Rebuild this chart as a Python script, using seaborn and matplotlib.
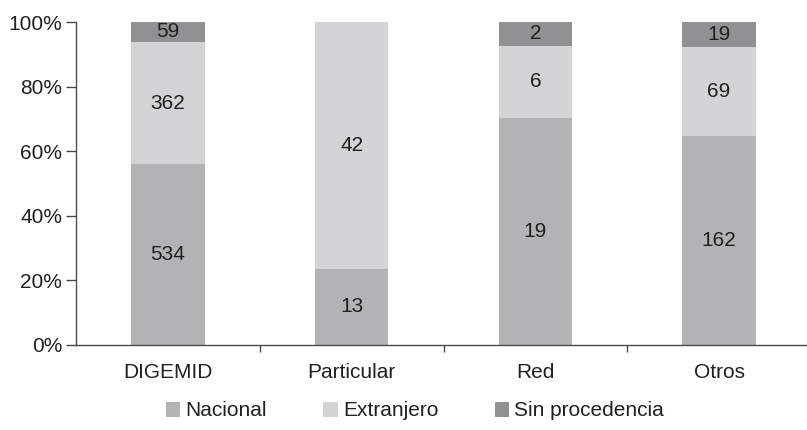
import matplotlib

matplotlib.use("Agg")
import matplotlib.pyplot as plt
import numpy as np
import pandas as pd
import seaborn as sns
from matplotlib.patches import Patch
from matplotlib.ticker import FixedLocator, PercentFormatter

categories = ["DIGEMID", "Particular", "Red", "Otros"]
nacional = [534, 13, 19, 162]
extranjero = [362, 42, 6, 69]
sin_procedencia = [59, 0, 2, 19]

series_names = ["Nacional", "Extranjero", "Sin procedencia"]
colors = ["#b2b3b5", "#d3d4d6", "#909193"]
text_color = "#231f20"
axis_color = "#4a4a4a"
font_size = 15

sns.set_theme(style="white")
plt.rcParams["font.family"] = ["Liberation Sans", "DejaVu Sans"]

counts = np.array([nacional, extranjero, sin_procedencia], dtype=float)
shares = counts / counts.sum(axis=0) * 100
cumulative = np.cumsum(shares, axis=0)

fig = plt.figure(figsize=(8.07, 4.30), dpi=100)
ax = fig.add_axes([76 / 807, 85 / 430, 735 / 807, 323 / 430])

# draw cumulative layers from top to bottom so each segment shows through
for level in range(2, -1, -1):
    frame = pd.DataFrame({"categoria": categories, "valor": cumulative[level]})
    sns.barplot(
        data=frame,
        x="categoria",
        y="valor",
        color=colors[level],
        saturation=1,
        width=0.4,
        linewidth=0,
        edgecolor="none",
        ax=ax,
    )

for level in range(3):
    lower = cumulative[level] - shares[level]
    for index, value in enumerate(counts[level]):
        if value == 0:
            continue
        middle = lower[index] + shares[level][index] / 2
        ax.text(index, middle, f"{int(value)}", ha="center", va="center",
                fontsize=font_size, color=text_color)

ax.set_xlim(-0.5, 3.5)
ax.set_ylim(0, 100)
ax.yaxis.set_major_locator(FixedLocator([0, 20, 40, 60, 80, 100]))
ax.yaxis.set_major_formatter(PercentFormatter(decimals=0))
ax.set_xlabel("")
ax.set_ylabel("")

ax.xaxis.set_minor_locator(FixedLocator([0.5, 1.5, 2.5]))
ax.tick_params(axis="x", which="major", length=0, pad=13, labelsize=font_size, colors=text_color)
ax.tick_params(axis="x", which="minor", bottom=True, length=5, width=1, color=axis_color)
ax.tick_params(axis="y", left=True, length=7, width=1, color=axis_color, pad=3,
               labelsize=font_size, labelcolor=text_color)

sns.despine(ax=ax)
for side in ("left", "bottom"):
    ax.spines[side].set_color(axis_color)
    ax.spines[side].set_linewidth(1)

handles = [Patch(facecolor=c, edgecolor="none") for c in colors]
fig.legend(
    handles,
    series_names,
    loc="center",
    bbox_to_anchor=(415 / 807, 1 - 411 / 430),
    ncol=3,
    frameon=False,
    fontsize=font_size,
    handlelength=0.7,
    handleheight=0.7,
    handletextpad=0.25,
    columnspacing=2.7,
    labelcolor=text_color,
)

fig.savefig("out.png", dpi=100)
